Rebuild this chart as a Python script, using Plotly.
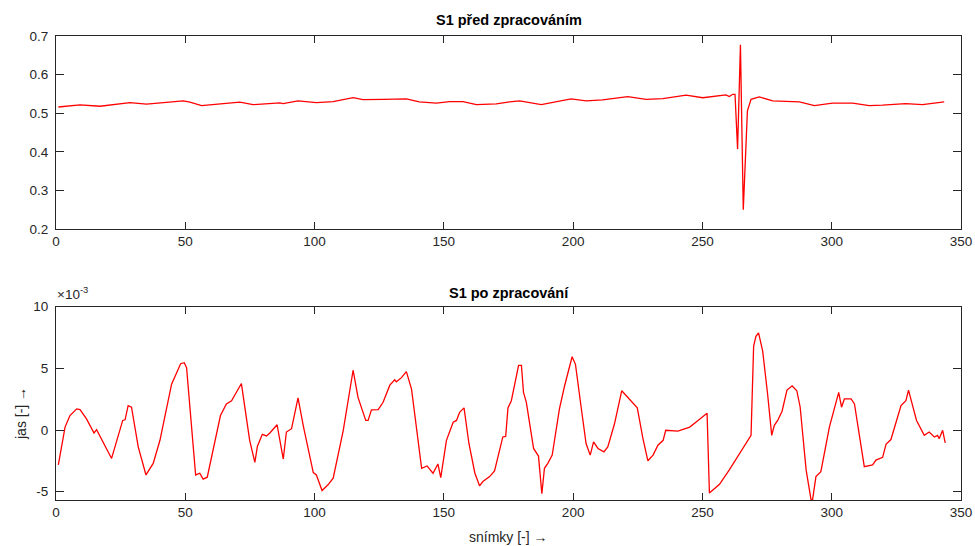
import plotly.graph_objects as go

# ---- data ----
x_before = [0.9, 9.3, 17.0, 28.6, 35.0, 40.2, 49.2, 51.8, 56.3, 64.7, 71.1, 76.2, 86.6, 87.8,
            93.6, 100.7, 107.2, 114.9, 118.7, 126.5, 135.5, 140.5, 147.1, 152.2, 157.4, 162.6,
            170.3, 175.4, 179.3, 187.7, 199.2, 205.0, 211.4, 221.1, 228.2, 234.7, 243.7, 250.1,
            259.1, 260.4, 261.7, 262.6, 263.6, 264.7, 265.8, 267.4, 268.8, 270.7, 272.0, 277.2,
            283.6, 287.5, 293.3, 300.3, 308.1, 314.5, 319.6, 328.6, 335.1, 343.5]
y_before = [0.516, 0.5215, 0.518, 0.5275, 0.5233, 0.526, 0.532, 0.529, 0.5197, 0.525, 0.5285,
            0.5223, 0.5267, 0.525, 0.532, 0.5275, 0.530, 0.5405, 0.5353, 0.536, 0.537, 0.5293,
            0.526, 0.530, 0.530, 0.5223, 0.524, 0.5293, 0.532, 0.5223, 0.537, 0.532, 0.5345,
            0.543, 0.536, 0.538, 0.5466, 0.540, 0.5474, 0.543, 0.549, 0.549, 0.407, 0.677,
            0.250, 0.506, 0.536, 0.540, 0.542, 0.532, 0.530, 0.5293, 0.5197, 0.526, 0.526,
            0.5197, 0.5207, 0.525, 0.5223, 0.5293]

x_after = [0.9, 3.5, 5.4, 8.0, 9.3, 11.8, 14.7, 15.7, 21.5, 22.8, 25.8, 26.7, 27.9, 29.2, 31.8,
           34.8, 37.6, 40.2, 44.7, 48.2, 49.6, 50.5, 54.0, 55.6, 56.9, 58.5, 60.8, 63.6, 65.9,
           67.9, 71.7, 74.9, 76.9, 77.9, 79.8, 81.4, 82.7, 84.0, 85.5, 87.9, 89.1, 91.1, 93.6,
           95.6, 97.5, 99.5, 100.7, 102.9, 105.2, 107.2, 111.1, 114.9, 116.8, 119.8, 120.7,
           122.0, 124.6, 126.5, 129.1, 131.0, 131.6, 133.6, 135.5, 137.5, 141.4, 143.5, 145.8,
           147.7, 148.8, 151.0, 153.6, 154.9, 156.1, 157.8, 159.7, 162.0, 163.8, 165.1, 167.7,
           169.6, 172.8, 173.9, 174.8, 176.1, 178.9, 180.0, 180.8, 181.9, 184.7, 186.6, 187.9,
           188.9, 190.2, 191.9, 194.7, 196.7, 199.6, 200.9, 203.1, 205.0, 206.6, 207.9, 209.6,
           211.9, 213.4, 216.0, 218.8, 224.8, 227.0, 228.9, 230.9, 232.8, 234.8, 235.8, 240.5,
           245.1, 248.3, 251.8, 252.7, 256.6, 260.4, 264.3, 268.8, 269.8, 270.7, 271.7, 273.3,
           275.2, 276.8, 277.8, 279.1, 280.8, 282.7, 284.7, 286.5, 287.8, 290.1, 292.0, 292.6,
           293.9, 295.8, 299.1, 302.7, 303.8, 304.9, 307.5, 308.8, 312.6, 315.8, 317.1, 319.7,
           321.0, 322.9, 326.8, 328.7, 329.7, 332.8, 335.8, 337.7, 339.7, 340.9, 341.6, 342.9,
           343.9]
# values in units of 1e-3
y_after_e3 = [-2.83, 0.24, 1.18, 1.72, 1.66, 0.91, -0.24, 0.03, -2.30, -1.36, 0.78, 0.83, 1.98,
              1.85, -1.36, -3.64, -2.70, -0.83, 3.72, 5.38, 5.46, 5.06, -3.64, -3.50, -3.98,
              -3.82, -1.63, 1.18, 2.12, 2.38, 3.77, -0.83, -2.62, -1.31, -0.35, -0.48, -0.24,
              0.11, 0.43, -2.35, -0.16, 0.11, 2.60, 0.38, -1.36, -3.45, -3.64, -4.90, -4.44,
              -3.90, -0.02, 4.85, 2.65, 0.78, 0.78, 1.64, 1.66, 2.25, 3.64, 4.07, 3.91, 4.25,
              4.74, 3.32, -3.10, -2.91, -3.50, -2.75, -3.85, -0.83, 0.64, 0.78, 1.44, 1.80,
              -1.09, -3.50, -4.52, -4.17, -3.77, -3.31, -0.56, -0.51, 1.80, 2.38, 5.25, 5.25,
              3.05, 2.25, -1.49, -2.11, -5.16, -3.10, -2.70, -2.03, 1.72, 3.59, 5.94, 5.33,
              1.85, -1.09, -2.03, -0.96, -1.49, -1.77, -1.36, 0.51, 3.19, 1.80, -0.69, -2.49,
              -2.03, -1.23, -0.83, -0.02, -0.08, 0.24, 0.78, 1.36, -5.10, -4.40, -3.23, -1.90,
              -0.43, 6.80, 7.60, 7.87, 6.40, 2.92, -0.43, 0.38, 0.78, 1.53, 3.24, 3.59, 3.19,
              1.85, -3.23, -5.64, -5.64, -3.77, -3.37, 0.24, 3.05, 1.85, 2.52, 2.52, 2.12,
              -2.97, -2.83, -2.43, -2.21, -1.15, -0.77, 1.98, 2.38, 3.24, 0.78, -0.43, -0.16,
              -0.56, -0.43, -0.69, -0.02, -1.04]
y_after = [v * 1e-3 for v in y_after_e3]

x_ticks = [0, 50, 100, 150, 200, 250, 300, 350]
top_yticks = [0.2, 0.3, 0.4, 0.5, 0.6, 0.7]
top_yticklabels = ["0.2", "0.3", "0.4", "0.5", "0.6", "0.7"]
bot_yticks = [-5e-3, 0, 5e-3, 10e-3]
bot_yticklabels = ["-5", "0", "5", "10"]

# ---- figure ----
W, H = 975, 546
ML, MR, MT, MB = 56, 14, 36, 46
PH = H - MT - MB

def frac(py):
    return (H - MB - py) / PH

FONT = "Liberation Sans, Arial, sans-serif"
AX = "#262626"

fig = go.Figure()
fig.add_trace(go.Scatter(x=x_before, y=y_before, mode="lines",
                         line=dict(color="#ff0000", width=1.3), xaxis="x", yaxis="y"))
fig.add_trace(go.Scatter(x=x_after, y=y_after, mode="lines",
                         line=dict(color="#ff0000", width=1.3), xaxis="x2", yaxis="y2"))

common = dict(showgrid=False, zeroline=False, showline=True, linecolor=AX, linewidth=1,
              mirror="ticks", ticks="inside", tickcolor=AX, tickwidth=1, automargin=False,
              tickfont=dict(family=FONT, size=13.5, color=AX))

fig.update_layout(
    width=W, height=H, margin=dict(l=ML, r=MR, t=MT, b=MB, autoexpand=False),
    paper_bgcolor="white", plot_bgcolor="white", showlegend=False,
    xaxis=dict(domain=[0, 1], range=[0, 350], tickvals=x_ticks, ticklen=7, anchor="y", **common),
    yaxis=dict(domain=[frac(229), 1], range=[0.2, 0.7], tickvals=top_yticks,
               ticktext=top_yticklabels, ticklen=8, anchor="x", ticklabelstandoff=4, **common),
    xaxis2=dict(domain=[0, 1], range=[0, 350], tickvals=x_ticks, ticklen=7, anchor="y2", **common),
    yaxis2=dict(domain=[0, frac(306.7)], range=[-5.67e-3, 10e-3], tickvals=bot_yticks,
                ticktext=bot_yticklabels, ticklen=8, anchor="x2", ticklabelstandoff=4, **common),
)

cx = (ML + (W - MR)) / 2
ann = []

def px_to_paper(x, y):
    return (x - ML) / (W - ML - MR), (H - MB - y) / PH

def add(text, x, y, size, xanchor="center", yanchor="middle", **kw):
    px, py = px_to_paper(x, y)
    bold = kw.pop("bold", False)
    ann.append(dict(text=f"<b>{text}</b>" if bold else text, x=px, y=py,
                    xref="paper", yref="paper", showarrow=False,
                    xanchor=xanchor, yanchor=yanchor,
                    font=dict(family=FONT, size=size, color=kw.pop("color", "black")), **kw))

add("S1 před zpracováním", cx, 20, 14.5, bold=True)
add("S1 po zpracování", cx, 292.5, 14.5, bold=True)
add("snímky [-] →", cx, 536.5, 14, color=AX)
add("jas [-] →", 21, 414, 14, color=AX, textangle=-90)
add("×10<sup>-3</sup>", 55, 304, 13.5, color=AX, xanchor="left", yanchor="bottom")

fig.update_layout(annotations=ann)
fig.write_html("out.html", config={"displayModeBar": False},
               post_script="document.body.style.margin='0';document.body.style.padding='0';")
